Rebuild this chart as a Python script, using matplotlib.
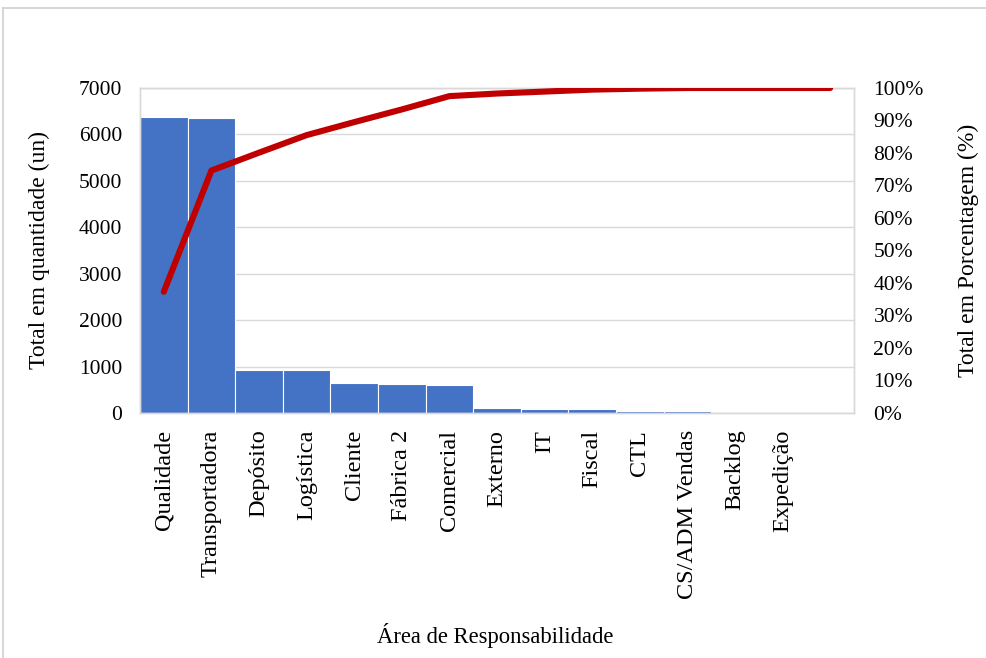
import matplotlib
matplotlib.use("Agg")
import matplotlib.pyplot as plt
from matplotlib.lines import Line2D
import numpy as np

categories = ["Qualidade", "Transportadora", "Depósito", "Logística", "Cliente",
              "Fábrica 2", "Comercial", "Externo", "IT", "Fiscal", "CTL",
              "CS/ADM Vendas", "Backlog", "Expedição", ""]
quantities = [6375, 6350, 930, 930, 640, 618, 596, 100, 95, 95, 40, 40, 2, 2, 0]
cumulative_pct = [37.3, 74.6, 80.1, 85.5, 89.5, 93.4, 97.5, 98.3, 98.9, 99.5,
                  99.8, 100.0, 100.0, 100.0, 100.0]
left_ticks = [0, 1000, 2000, 3000, 4000, 5000, 6000, 7000]
right_ticks = [0, 10, 20, 30, 40, 50, 60, 70, 80, 90, 100]

plt.rcParams['font.family'] = ['Liberation Serif', 'DejaVu Serif']
FS_TICK = 15.5
FS_ROT = 17.5
FS_YLAB = 17
FS_XLAB = 16.3
GRAY = '#d9d9d9'

W, H = 987, 658
fig = plt.figure(figsize=(W / 100, H / 100), dpi=100)
fig.patch.set_facecolor('white')

# light frame around the chart area
fig.add_artist(Line2D([3 / W, 1.0], [1 - 8 / H, 1 - 8 / H], transform=fig.transFigure,
                      color='#d0d0d0', lw=1.2))
fig.add_artist(Line2D([3 / W, 3 / W], [0, 1 - 8 / H], transform=fig.transFigure,
                      color='#d0d0d0', lw=1.2))

ax = fig.add_axes([140 / W, 1 - 413 / H, 714 / W, 325 / H])
x = np.arange(len(categories))
ax.bar(x, quantities, width=1.0, color='#4472C4', edgecolor='white', linewidth=0.8, zorder=2)
ax.set_xlim(-0.5, len(categories) - 0.5)
ax.set_ylim(0, 7000)
ax.set_yticks(left_ticks)
ax.set_yticklabels([str(v) for v in left_ticks], fontsize=FS_TICK)
ax.set_xticks(x)
ax.set_xticklabels(categories, rotation=90, fontsize=FS_ROT, va='top')
ax.tick_params(axis='both', length=0)
ax.tick_params(axis='y', pad=13)
ax.tick_params(axis='x', pad=12)
ax.yaxis.grid(True, color=GRAY, lw=1.0, zorder=0)
ax.set_axisbelow(True)
for s in ax.spines.values():
    s.set_color(GRAY)
    s.set_linewidth(1.0)

ax.set_ylabel("Total em quantidade (un)", fontsize=FS_YLAB)
ax.yaxis.set_label_coords((50 - 140) / 714, 0.5)
ax.set_xlabel("Área de Responsabilidade", fontsize=FS_XLAB)
ax.xaxis.set_label_coords((495 - 140) / 714, (413 - 635) / 325)
ax.xaxis.label.set_va('center')

ax2 = ax.twinx()
ax2.plot(x, cumulative_pct, color='#C00000', lw=4.4, solid_capstyle='round',
         solid_joinstyle='round', zorder=3)
ax2.set_ylim(0, 100)
ax2.set_yticks(right_ticks)
ax2.set_yticklabels([f"{v}%" for v in right_ticks], fontsize=FS_TICK)
ax2.tick_params(axis='y', length=0, pad=14)
for s in ax2.spines.values():
    s.set_color(GRAY)
    s.set_linewidth(1.0)
ax2.set_ylabel("Total em Porcentagem (%)", fontsize=FS_YLAB, rotation=90)
ax2.yaxis.set_label_coords((958 - 140) / 714, 0.5)

fig.savefig("out.png", dpi=100)
